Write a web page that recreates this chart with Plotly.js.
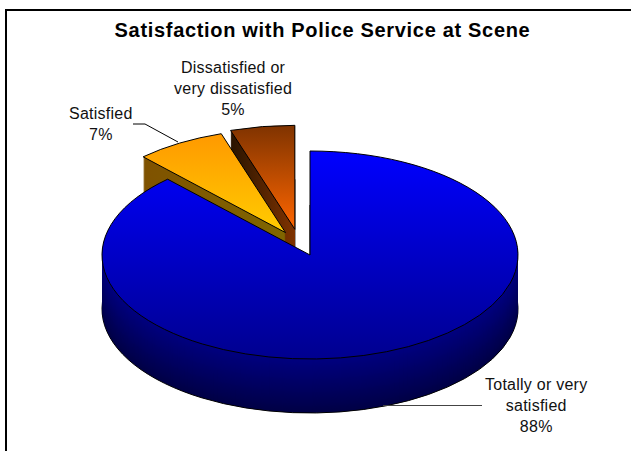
<!DOCTYPE html>
<html><head><meta charset="utf-8">
<script src="https://cdn.plot.ly/plotly-3.0.1.min.js"></script>
<style>html,body{margin:0;padding:0;background:#fff;overflow:hidden}
.gtitle{letter-spacing:0.68px}
.annotation-text{letter-spacing:0.25px}</style>
</head><body><div id="chart" style="width:631px;height:451px"></div>
<script>
const categories = ["Totally or very satisfied", "Satisfied", "Dissatisfied or very dissatisfied"];
const percents = [88, 7, 5];
const explode = [0, 0.25, 0.25];
const chartTitle = "Satisfaction with Police Service at Scene";

const W = 631, H = 451, CX = 310, CY = 255, HALF = 130, DEPTH = 54, SQUASH_X = 2;
const sliceShift = [0, 1, -3.5];
const wallTop = [[0,0,128],[127,80,0],[36,18,0]];
const wallBot = [[0,0,70],[127,100,0],[128,51,0]];
const faceGrad = [["#0000ff","#00008f"],["#ff9900","#ffcc00"],["#7f3300","#ff6600"]];
const wallGrad = [null,["#7f4c00","#7f6600"],["#241200","#803300"]];
const CLEAR = "rgba(0,0,0,0)";
const px = x => x / W, py = y => 1 - y / H;

const traces = [];
const topIdx = [];
function layer(slice, k) {
  const t = k / DEPTH;
  const c = wallTop[slice].map((v,i) => Math.round(v + (wallBot[slice][i]-v)*t));
  const col = k === 0 ? faceGrad[slice][0] : "rgb(" + c.join(",") + ")";
  const edge = (k === 0 || k === DEPTH);
  const cx = CX + sliceShift[slice];
  traces.push({
    type: "pie", labels: categories, values: percents, pull: explode,
    sort: false, direction: "clockwise", rotation: 0,
    textinfo: "none", hoverinfo: "skip", showlegend: false,
    domain: {x: [px(cx-HALF), px(cx+HALF)], y: [py(CY+HALF+k), py(CY-HALF+k)]},
    marker: {
      colors: categories.map((_,i) => i === slice ? col : CLEAR),
      line: {color: categories.map((_,i) => i === slice && edge ? "#000" : CLEAR),
             width: categories.map((_,i) => i === slice && edge ? 1 : 0)}
    }
  });
  topIdx.push([traces.length-1, slice, k]);
}
// back to front: dark slice, orange slice, blue slice; each from the bottom layer up
[2,1,0].forEach(s => { for (let k = DEPTH; k >= 0; k--) layer(s, k); });

const labelStyle = {family: "Liberation Sans, Arial, sans-serif", size: 16, color: "#111"};
const ann = (x,y,text) => ({xref:"paper",yref:"paper",x:px(x),y:py(y),text,showarrow:false,
  xanchor:"center",yanchor:"middle",align:"center",font:labelStyle});
const path = pts => "M" + pts.map(p => px(p[0]) + "," + py(p[1])).join("L");

const layout = {
  width: W, height: H, margin: {l:0,r:0,t:0,b:0}, paper_bgcolor: "#fff", showlegend: false,
  title: {text: "<b>" + chartTitle + "</b>", x: 322.5/W, xanchor: "center", y: 1-29.5/H, yanchor: "middle",
          font: {family: "Liberation Sans, Arial, sans-serif", size: 20, color: "#000"}},
  annotations: [
    ann(233, 89, "Dissatisfied or<br>very dissatisfied<br>5%"),
    ann(100.5, 124, "Satisfied<br>7%"),
    ann(535.5, 405, "Totally or very<br>satisfied<br>88%")
  ],
  shapes: [
    {type:"path",xref:"paper",yref:"paper",path:path([[6,470],[6,10],[650,10]]),line:{color:"#000",width:2}},
    {type:"path",xref:"paper",yref:"paper",path:path([[133,124],[145,124],[178,142]]),line:{color:"#000",width:1}},
    {type:"line",xref:"paper",yref:"paper",x0:px(383),x1:px(482),y0:py(405.5),y1:py(405.5),line:{color:"#444",width:1}}
  ]
};

Plotly.newPlot("chart", traces, layout, {displayModeBar:false, staticPlot:true}).then(gd => {
  const svg = gd.querySelector("svg.main-svg");
  const NS = "http://www.w3.org/2000/svg";
  const defs = document.createElementNS(NS, "defs");
  const addGrad = (id, g) => {
    const lg = document.createElementNS(NS, "linearGradient");
    lg.setAttribute("id", id);
    lg.setAttribute("x1","0"); lg.setAttribute("y1","0"); lg.setAttribute("x2","0"); lg.setAttribute("y2","1");
    g.forEach((c,j) => { const st = document.createElementNS(NS,"stop");
      st.setAttribute("offset", j); st.setAttribute("stop-color", c); lg.appendChild(st); });
    defs.appendChild(lg);
  };
  faceGrad.forEach((g,i) => addGrad("faceGrad"+i, g));
  wallGrad.forEach((g,i) => { if (g) addGrad("wallGrad"+i, g); });
  svg.insertBefore(defs, svg.firstChild);
  const pl = gd.querySelector(".pielayer");
  pl.setAttribute("transform", `translate(${CX},0) scale(${SQUASH_X},1) translate(${-CX},0)`);
  pl.querySelectorAll("path").forEach(p => p.setAttribute("vector-effect","non-scaling-stroke"));
  const groups = pl.querySelectorAll(":scope > g.trace");
  topIdx.forEach(([ti,s,k]) => {
    const slice = groups[ti].querySelectorAll("g.slice")[s];
    if (!slice) return;
    if (k === 0) slice.querySelector("path").style.fill = `url(#faceGrad${s})`;
    else if (wallGrad[s]) slice.querySelector("path").style.fill = `url(#wallGrad${s})`;
  });
});
</script></body></html>
